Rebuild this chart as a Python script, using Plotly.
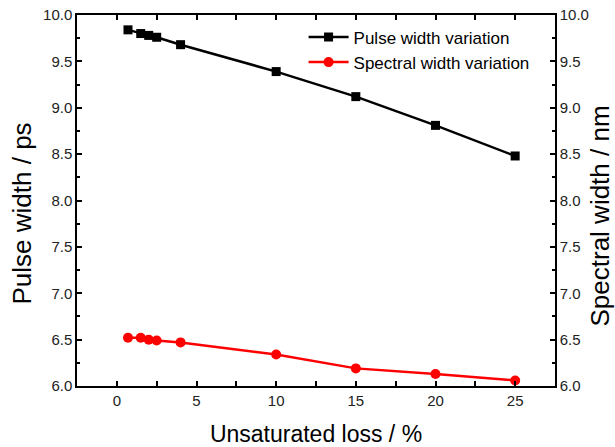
import plotly.graph_objects as go

loss = [0.7, 1.5, 2.0, 2.5, 4.0, 10.0, 15.0, 20.0, 25.0]
pulse_width = [9.84, 9.80, 9.78, 9.76, 9.68, 9.39, 9.12, 8.81, 8.48]
spectral_width = [6.52, 6.52, 6.50, 6.49, 6.47, 6.34, 6.19, 6.13, 6.06]

FONT = "Liberation Sans, Arial, sans-serif"

fig = go.Figure()
fig.add_trace(go.Scatter(
    x=loss, y=pulse_width, name="Pulse width variation",
    mode="lines+markers",
    line=dict(color="black", width=2.5),
    marker=dict(symbol="square", size=9, color="black"),
))
fig.add_trace(go.Scatter(
    x=loss, y=spectral_width, name="Spectral width variation",
    mode="lines+markers", yaxis="y2",
    line=dict(color="red", width=2.5),
    marker=dict(symbol="circle", size=10, color="red"),
))

axis_common = dict(
    showgrid=False, zeroline=False, showline=True, linecolor="black", linewidth=1.5,
    ticks="inside", ticklen=5, tickwidth=1.5, tickcolor="black", automargin=False,
    tickfont=dict(family=FONT, size=15, color="#222"),
)

xtitle_font = dict(family=FONT, size=23, color="black")
ytitle_font = dict(family=FONT, size=26, color="black")

fig.update_layout(
    width=615, height=447,
    margin=dict(l=77, r=60, t=15, b=61),
    paper_bgcolor="white", plot_bgcolor="white",
    font=dict(family=FONT, color="black"),
    showlegend=True,
    legend=dict(x=0.474, y=0.988, xanchor="left", yanchor="top",
                bgcolor="rgba(0,0,0,0)", font=dict(family=FONT, size=17, color="black"),
                tracegroupgap=0, itemwidth=40),
    xaxis=dict(
        range=[-2.5, 27.5], tickvals=[0, 5, 10, 15, 20, 25], mirror="allticks",
        minor=dict(dtick=2.5, tick0=0, ticks="inside", ticklen=3, tickcolor="black", tickwidth=1.5),
        title=dict(text="Unsaturated loss / %", font=xtitle_font, standoff=18),
        **axis_common,
    ),
    yaxis=dict(
        range=[6, 10], dtick=0.5, tick0=6, tickformat=".1f",
        minor=dict(dtick=0.25, tick0=6, ticks="inside", ticklen=3, tickcolor="black", tickwidth=1.5),
        **axis_common,
    ),
    yaxis2=dict(
        range=[6, 10], dtick=0.5, tick0=6, tickformat=".1f", overlaying="y", side="right",
        minor=dict(dtick=0.25, tick0=6, ticks="inside", ticklen=3, tickcolor="black", tickwidth=1.5),
        **axis_common,
    ),
    annotations=[
        dict(text="Pulse width / ps", xref="paper", yref="paper", x=0, y=0.5,
             xanchor="center", yanchor="middle", xshift=-56, yshift=-13, textangle=-90,
             showarrow=False, font=ytitle_font),
        dict(text="Spectral width / nm", xref="paper", yref="paper", x=1, y=0.5,
             xanchor="center", yanchor="middle", xshift=44, yshift=-16, textangle=-90,
             showarrow=False, font=ytitle_font),
    ],
)

fig.write_html("out.html")
